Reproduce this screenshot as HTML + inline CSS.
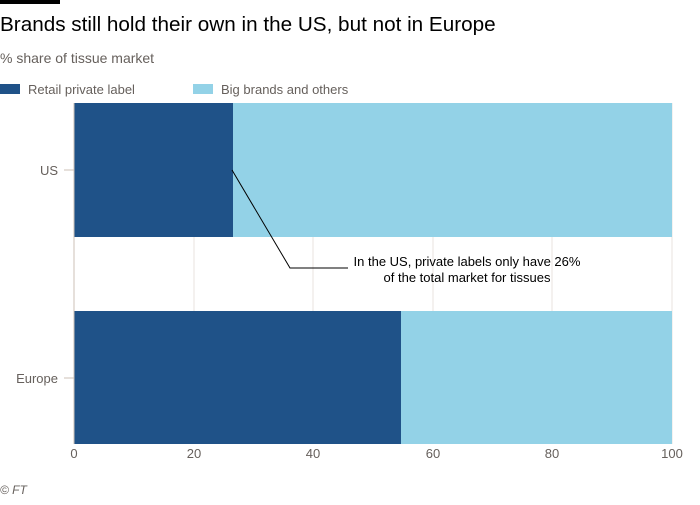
<!DOCTYPE html>
<html><head><style>
body{margin:0;background:#fff;font-family:"Liberation Sans",sans-serif;}
</style></head><body>
<svg width="700" height="500" xmlns="http://www.w3.org/2000/svg" font-family="Liberation Sans, sans-serif">
<rect x="0" y="0" width="60" height="4" fill="#000"/>
<text x="0" y="31" font-size="20.7" fill="#000">Brands still hold their own in the US, but not in Europe</text>
<text x="0" y="63" font-size="14" fill="#66605c">% share of tissue market</text>
<rect x="0" y="84" width="20" height="10" fill="#1f5288"/>
<text x="28" y="94" font-size="13" fill="#66605c">Retail private label</text>
<rect x="193" y="84" width="20" height="10" fill="#93d2e7"/>
<text x="221" y="94" font-size="13" fill="#66605c">Big brands and others</text>
<g stroke="#e8e3df" stroke-width="1">
<line x1="194" y1="103" x2="194" y2="444"/><line x1="313" y1="103" x2="313" y2="444"/>
<line x1="433" y1="103" x2="433" y2="444"/><line x1="552" y1="103" x2="552" y2="444"/>
<line x1="672" y1="103" x2="672" y2="444"/>
</g>
<rect x="74" y="103" width="159" height="134" fill="#1f5288"/>
<rect x="233" y="103" width="439" height="134" fill="#93d2e7"/>
<rect x="74" y="311" width="327" height="133" fill="#1f5288"/>
<rect x="401" y="311" width="271" height="133" fill="#93d2e7"/>
<line x1="74" y1="103" x2="74" y2="444" stroke="#ccc1b7"/>
<line x1="64" y1="170" x2="74" y2="170" stroke="#ccc1b7"/>
<line x1="64" y1="378" x2="74" y2="378" stroke="#ccc1b7"/>
<text x="58" y="175" font-size="13" fill="#66605c" text-anchor="end">US</text>
<text x="58" y="383" font-size="13" fill="#66605c" text-anchor="end">Europe</text>
<g font-size="13" fill="#66605c" text-anchor="middle">
<text x="74" y="458">0</text><text x="194" y="458">20</text><text x="313" y="458">40</text>
<text x="433" y="458">60</text><text x="552" y="458">80</text><text x="672" y="458">100</text>
</g>
<polyline points="232,170 290,268 348,268" fill="none" stroke="#000" stroke-width="1"/>
<text x="467" y="266" font-size="13" fill="#000" text-anchor="middle">In the US, private labels only have 26%</text>
<text x="467" y="282" font-size="13" fill="#000" text-anchor="middle">of the total market for tissues</text>
<text x="0" y="494" font-size="12" font-style="italic" fill="#66605c">© FT</text>
</svg>
</body></html>
